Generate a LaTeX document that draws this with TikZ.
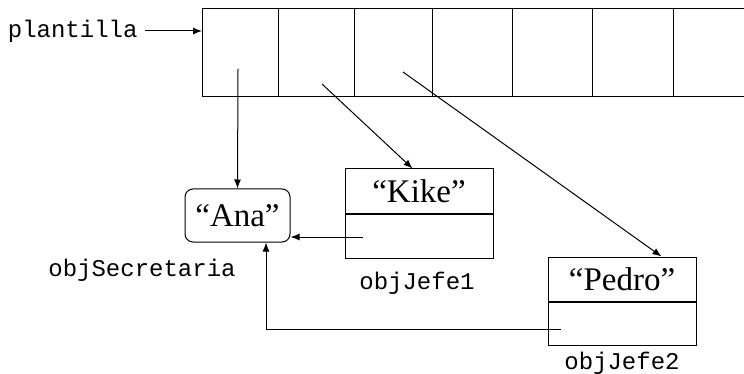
\documentclass[tikz,border=0pt]{standalone}
\usepackage{fontspec}
\setmainfont{Liberation Serif}
\newfontfamily\monof{Liberation Mono}
\usetikzlibrary{arrows.meta}
\begin{document}
\begin{tikzpicture}[x=1pt,y=-1pt, line width=1pt,
  arr/.style={-{Latex[length=9pt,width=7pt]}},
  lbl/.style={font=\monof\fontsize{24}{24}\selectfont, inner sep=0pt},
  nm/.style={font=\fontsize{33}{33}\selectfont, inner sep=0pt},
  box/.style={draw, minimum width=148pt, inner sep=0pt}]
\useasboundingbox (0,0) rectangle (744,374);
% array
\node[draw, minimum width=541.5pt, minimum height=88pt, anchor=north west, inner sep=0pt] (arrayb) at (202,8) {};
\foreach \x in {278,354,432,512,592,673} \draw (\x,8) -- (\x,96);
\coordinate (p1) at (238,69);
\coordinate (p2) at (322,84);
\coordinate (p3) at (403,72);
% plantilla
\node[lbl, anchor=east] (plan) at (138,31) {plantilla};
\draw[arr] ([xshift=7pt]plan.east) -- (plan -| arrayb.west);
% Ana
\node[draw, rounded corners=8pt, minimum width=105pt, minimum height=53pt, nm] (ana) at (237.5,215.5) {“Ana”};
\node[lbl] (sec) at (142,270) {objSecretaria};
% Kike
\node[box, minimum height=45pt, nm] (kt) at (419,191.5) {“Kike”};
\node[box, minimum height=43pt, anchor=north] (kb) at (kt.south) {};
\node[lbl] (j1) at (417,283) {objJefe1};
% Pedro
\node[box, minimum height=44pt, nm] (pt) at (622,279) {“Pedro”};
\node[box, minimum height=43pt, anchor=north] (pb) at (pt.south) {};
\node[lbl] (j2) at (622,363) {objJefe2};
% arrows
\draw[arr] (p1) -- (ana.north);
\draw[arr] (p2) -- ([xshift=68pt]kt.north west);
\draw[arr] (p3) -- ([xshift=114pt]pt.north west);
\coordinate (ks) at ([xshift=18pt,yshift=-0.5pt]kb.west);
\draw[arr] (ks) -- (ks -| ana.east);
\coordinate (ps) at ([xshift=13pt,yshift=-5.5pt]pb.west);
\draw[arr] (ps) -| ([xshift=28.5pt]ana.south);
\end{tikzpicture}
\end{document}
